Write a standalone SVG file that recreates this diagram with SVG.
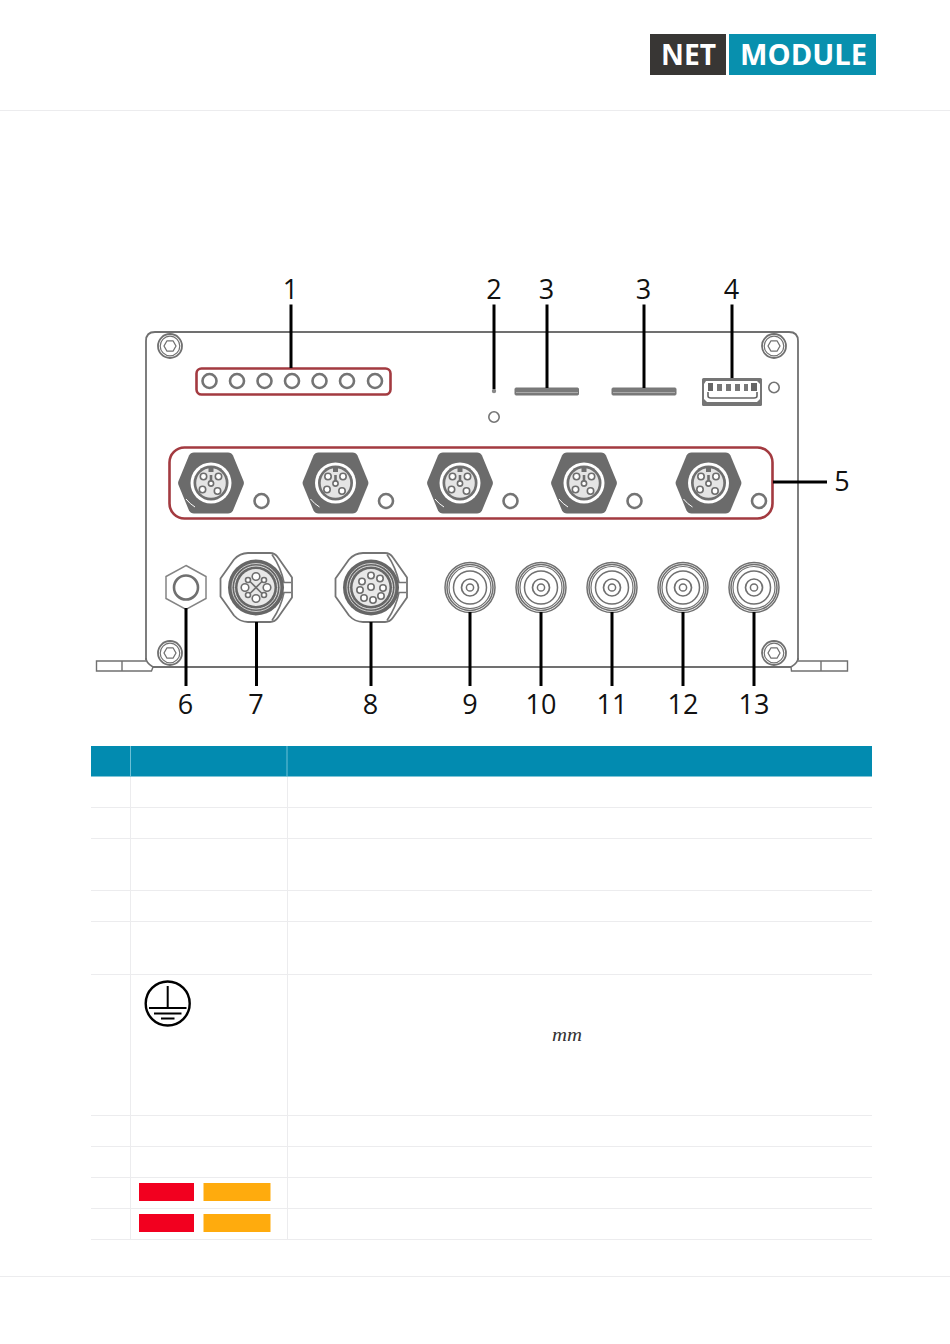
<svg xmlns="http://www.w3.org/2000/svg" xmlns:xlink="http://www.w3.org/1999/xlink" width="950" height="1344" viewBox="0 0 950 1344">
<style>
.num{font-family:"Open Sans","Liberation Sans",sans-serif;font-size:27px;fill:#111;text-anchor:middle}
.lead{stroke:#000;stroke-width:3;fill:none}
.g{stroke:#707070;fill:none}
.led{stroke:#747474;stroke-width:2.6;fill:#fff}
.red{stroke:#a33a40;stroke-width:2.6;fill:none}
.rule{stroke:#ececee;stroke-width:1;fill:none}
.pin{stroke:#6e6e6e;stroke-width:1.6;fill:#fff}
.logo{font-family:"Open Sans","Liberation Sans",sans-serif;font-size:28px;font-weight:700;fill:#fff}
</style>
<defs>
<g id="screw"><circle r="12" class="g" stroke-width="1.8"/><circle r="9.8" class="g" stroke-width="1.2"/><polygon points="-6,0 -3,-5.2 3,-5.2 6,0 3,5.2 -3,5.2" class="g" stroke-width="1.3" stroke-linejoin="round"/></g>
<g id="m12">
<path d="M-32.500,-2 L-22,-27.500 Q-20.500,-30.500 -17,-30.500 L17,-30.500 Q20.500,-30.500 22,-27.500 L32.500,-2 Q33.300,0 32.500,2 L22,27.500 Q20.500,30.500 17,30.500 L-17,30.500 Q-20.500,30.500 -22,27.500 L-32.500,2 Q-33.300,0 -32.500,-2 Z" fill="#6b6b6b"/>
<circle r="20.500" fill="#fff"/><circle r="17.500" fill="#6f6f6f"/><circle r="14.800" fill="#e4e4e4"/>
<path d="M-2.500,-15.500 h5 v4.500 h-5z" fill="#6f6f6f"/>
<circle cx="-7.500" cy="-6.500" r="3.200" class="pin"/><circle cx="7.500" cy="-6.500" r="3.200" class="pin"/><circle cx="-8.500" cy="6.500" r="3.200" class="pin"/><circle cx="6.500" cy="8" r="3.200" class="pin"/><circle cx="0" cy="0.500" r="2.600" class="pin"/><path d="M-1.300,-8 h2.600 v6 h-2.600z" fill="#6f6f6f"/>
<path d="M-25,16 Q-21,21 -16,24" stroke="#fff" stroke-width="1" fill="none"/>
</g>
<g id="round">
<path d="M-35.500,-9 L-22,-28 Q-16,-34.500 -8,-34.500 L14,-34.500 Q19,-34.500 22,-30 L36,-10 V10 L22,30 Q19,34.500 14,34.500 L-8,34.500 Q-16,34.500 -22,28 L-35.500,9 Z" fill="#fff" stroke="#747474" stroke-width="1.800" stroke-linejoin="round"/>
<path d="M16,-33 Q25,-20 28,-5 H35 M16,33 Q25,20 28,5 H35" fill="none" stroke="#747474" stroke-width="1.600"/>
<circle r="28" fill="#666"/><circle r="24" fill="none" stroke="#ccc" stroke-width="1"/><circle r="21.500" fill="none" stroke="#ddd" stroke-width="1"/><circle r="18.500" fill="#e8e8e8"/>
</g>
<g id="coax" class="g"><circle r="25" stroke-width="1.500"/><circle r="23" stroke-width="1.500"/><circle r="21" stroke-width="1.200"/><circle r="16.500" stroke-width="1.500"/><circle r="8.500" stroke-width="1.700"/><circle r="3.600" stroke-width="1.500"/></g>
</defs>
<rect width="950" height="1344" fill="#fff"/>

<g id="page-rules"><line x1="0" y1="110.500" x2="950" y2="110.500" class="rule"/><line x1="0" y1="1276.500" x2="950" y2="1276.500" class="rule"/></g>

<g id="logo">
<rect x="650" y="34" width="76" height="41" fill="#383634"/>
<rect x="729" y="34" width="147" height="41" fill="#0890ae"/>
<text x="661" y="65" class="logo" textLength="55" lengthAdjust="spacingAndGlyphs">NET</text>
<text x="740" y="65" class="logo" textLength="127" lengthAdjust="spacingAndGlyphs">MODULE</text>
</g>

<g id="enclosure">
<path d="M146,660 V341 Q146,332 155,332 H789 Q798,332 798,341 V660" class="g" stroke-width="1.800"/>
<path d="M153,667 H791" class="g" stroke-width="1.800"/>
<path d="M146,658 Q146,663 153,667" class="g" stroke-width="1.600"/>
<path d="M798,658 Q798,663 791,667" class="g" stroke-width="1.600"/>
<path d="M146,661 H96.500 V671 H151.500 L153,667 M122,661 V671" class="g" stroke-width="1.400"/>
<path d="M798,661 H847.500 V671 H791.500 L791,667 M821,661 V671" class="g" stroke-width="1.400"/>
<use xlink:href="#screw" href="#screw" x="170" y="346"/>
<use xlink:href="#screw" href="#screw" x="774" y="346"/>
<use xlink:href="#screw" href="#screw" x="170" y="653"/>
<use xlink:href="#screw" href="#screw" x="774" y="653"/>
</g>

<g id="node-1-leds">
<rect x="196.500" y="368.500" width="194" height="26" rx="5" class="red"/>
<circle cx="209.500" cy="381" r="7" class="led"/><circle cx="237" cy="381" r="7" class="led"/><circle cx="264.500" cy="381" r="7" class="led"/><circle cx="292" cy="381" r="7" class="led"/><circle cx="319.500" cy="381" r="7" class="led"/><circle cx="347" cy="381" r="7" class="led"/><circle cx="375" cy="381" r="7" class="led"/>
</g>

<g id="node-2-reset">
<circle cx="494" cy="391" r="2.200" fill="#888"/>
<circle cx="494" cy="417" r="5.200" fill="#fff" stroke="#747474" stroke-width="1.600"/>
</g>

<g id="node-3-slot-a"><rect x="515" y="388" width="63.500" height="7" rx="1" fill="#7a7a7a" stroke="#777" stroke-width="1"/><line x1="516" y1="392.500" x2="578" y2="392.500" stroke="#aaa" stroke-width="1"/></g>
<g id="node-3-slot-b"><rect x="612" y="388" width="64" height="7" rx="1" fill="#7a7a7a" stroke="#777" stroke-width="1"/><line x1="613" y1="392.500" x2="675" y2="392.500" stroke="#aaa" stroke-width="1"/></g>

<g id="node-4-usb">
<rect x="702" y="378" width="60" height="28" rx="1.500" fill="#757575"/>
<path d="M706,381 H757 L760,384 V399 L757,402 H707 L704,399 V384 Z" fill="#fff"/>
<rect x="708" y="383" width="5" height="8" fill="#666"/><rect x="751" y="383" width="6" height="8" fill="#666"/>
<rect x="717" y="384" width="5" height="7" fill="#777"/><rect x="726" y="384" width="5" height="7" fill="#777"/><rect x="735" y="384" width="5" height="7" fill="#777"/><rect x="744" y="384" width="4" height="7" fill="#777"/>
<path d="M708,392 V396 Q708,398 711,398 H754 Q757,398 757,396 V392" fill="none" stroke="#666" stroke-width="1.600"/>
<circle cx="774" cy="387.500" r="5.200" fill="#fff" stroke="#747474" stroke-width="1.600"/>
</g>

<g id="node-5-m12-row">
<rect x="169.500" y="447.500" width="603" height="71" rx="15" class="red"/>
<use xlink:href="#m12" href="#m12" x="211" y="483"/>
<use xlink:href="#m12" href="#m12" x="335.500" y="483"/>
<use xlink:href="#m12" href="#m12" x="460" y="483"/>
<use xlink:href="#m12" href="#m12" x="584" y="483"/>
<use xlink:href="#m12" href="#m12" x="708.500" y="483"/>
<circle cx="261.500" cy="501" r="7" class="led"/><circle cx="386" cy="501" r="7" class="led"/><circle cx="510.500" cy="501" r="7" class="led"/><circle cx="634.500" cy="501" r="7" class="led"/><circle cx="759" cy="501" r="7" class="led"/>
</g>

<g id="node-6-ground">
<polygon points="186,565.500 206,576.500 206,598.500 186,609.500 166,598.500 166,576.500" fill="#fff" stroke="#848484" stroke-width="1.500"/>
<circle cx="186" cy="587.500" r="12" fill="none" stroke="#707070" stroke-width="2.600"/>
</g>

<g id="node-7-power">
<use xlink:href="#round" href="#round" x="256" y="587.500"/>
<g class="pin"><circle cx="256" cy="576.500" r="3.800"/><circle cx="256" cy="598.500" r="3.800"/><circle cx="245" cy="587.500" r="3.800"/><circle cx="267" cy="587.500" r="3.800"/><circle cx="248" cy="580" r="2.500"/><circle cx="264" cy="580" r="2.500"/><circle cx="248" cy="595" r="2.500"/><circle cx="264" cy="595" r="2.500"/></g>
<path d="M250,581.500 L262,593.500 M262,581.500 L250,593.500" stroke="#6e6e6e" stroke-width="1.600"/>
</g>

<g id="node-8-io">
<use xlink:href="#round" href="#round" x="371" y="587.500"/>
<g class="pin"><circle cx="371" cy="575.500" r="3.200"/><circle cx="380" cy="578.500" r="3.200"/><circle cx="362" cy="581.500" r="3.200"/><circle cx="360" cy="590" r="3.200"/><circle cx="371" cy="587" r="3.200"/><circle cx="383" cy="588" r="3.200"/><circle cx="364" cy="598" r="3.200"/><circle cx="373" cy="600" r="3.200"/><circle cx="381" cy="596" r="3.200"/></g>
</g>

<g id="node-9-antenna"><use xlink:href="#coax" href="#coax" x="470" y="587.500"/></g>
<g id="node-10-antenna"><use xlink:href="#coax" href="#coax" x="541" y="587.500"/></g>
<g id="node-11-antenna"><use xlink:href="#coax" href="#coax" x="612" y="587.500"/></g>
<g id="node-12-antenna"><use xlink:href="#coax" href="#coax" x="683" y="587.500"/></g>
<g id="node-13-antenna"><use xlink:href="#coax" href="#coax" x="754" y="587.500"/></g>

<g id="connectors" class="lead">
<path d="M291,304.500 V368"/><path d="M494,304.500 V389"/><path d="M547,304.500 V388"/><path d="M644,304.500 V388"/><path d="M732,304.500 V378"/>
<path d="M773,482 H827"/>
<path d="M186,608 V686"/><path d="M256.500,622 V686"/><path d="M371,622 V686"/><path d="M470,612 V686"/><path d="M541,612 V686"/><path d="M612,612 V686"/><path d="M683,612 V686"/><path d="M754,612 V686"/>
</g>

<g id="labels">
<text x="290.500" y="299" class="num">1</text><text x="494" y="299" class="num">2</text><text x="546.500" y="299" class="num">3</text><text x="643.500" y="299" class="num">3</text><text x="731.500" y="299" class="num">4</text><text x="842" y="490.500" class="num">5</text>
<text x="185.500" y="714" class="num">6</text><text x="256" y="714" class="num">7</text><text x="370.500" y="714" class="num">8</text><text x="470" y="714" class="num">9</text><text x="541" y="714" class="num">10</text><text x="612" y="714" class="num">11</text><text x="683" y="714" class="num">12</text><text x="754" y="714" class="num">13</text>
</g>

<g id="table">
<rect x="91" y="746" width="781" height="30.500" fill="#028bb0"/>
<path d="M130.500,746 V776 M287,746 V776" stroke="#6cc0d6" stroke-width="1"/>
<path d="M130.500,777 V1239.500 M287.500,777 V1239.500" class="rule"/>
<path d="M91,807.500 H872 M91,838.500 H872 M91,890.500 H872 M91,921.500 H872 M91,974.500 H872 M91,1115.500 H872 M91,1146.500 H872 M91,1177.500 H872 M91,1208.500 H872 M91,1239.500 H872" class="rule"/>
</g>

<g id="earth-symbol" fill="none" stroke="#000">
<circle cx="167.700" cy="1003.500" r="22" stroke-width="2.400"/>
<path d="M167.700,986 V1008 M149,1008 H186.500" stroke-width="2"/>
<path d="M154,1013.500 H181.500 M161,1018.500 H174.500" stroke-width="2"/>
</g>

<g id="unit"><text x="552" y="1041" font-family="'Liberation Serif',serif" font-style="italic" font-size="19" fill="#333" textLength="30" lengthAdjust="spacingAndGlyphs">mm</text></g>

<g id="status-bars">
<rect x="139" y="1183" width="55" height="18" fill="#f2001f"/><rect x="203.500" y="1183" width="67" height="18" fill="#ffab0d"/>
<rect x="139" y="1214" width="55" height="18" fill="#f2001f"/><rect x="203.500" y="1214" width="67" height="18" fill="#ffab0d"/>
</g>
</svg>
